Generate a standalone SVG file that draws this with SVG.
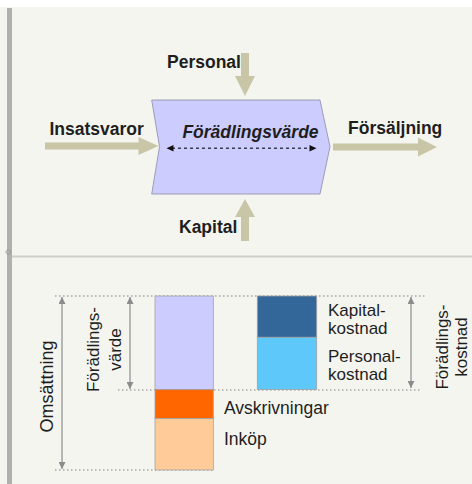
<svg xmlns="http://www.w3.org/2000/svg" width="472" height="484" viewBox="0 0 472 484">
  <defs>
    <style>
      .t { font-family: "Liberation Sans", Arial, sans-serif; fill: #1e1e1e; }
      .b { font-weight: bold; font-size: 17.5px; }
      .r { font-size: 17px; }
      .flow { fill: #c8c6a6; }
      .dot { stroke: #a8a8a8; stroke-width: 1.5; stroke-dasharray: 1.5 2.5; fill: none; }
      .dim { stroke: #8c8c8c; stroke-width: 1.2; fill: none; marker-start: url(#gh); marker-end: url(#gh); }
      .bar { stroke: #a0a0a0; stroke-width: 0.8; }
    </style>
    <marker id="gh" viewBox="0 0 10 10" refX="10" refY="5" markerUnits="userSpaceOnUse" markerWidth="8" markerHeight="7" orient="auto-start-reverse">
      <path d="M0,0 L10,5 L0,10 z" fill="#8c8c8c"/>
    </marker>
  </defs>

  <!-- background -->
  <rect x="0" y="0" width="472" height="484" fill="#f5f5f0"/>
  <rect x="0" y="0" width="472" height="7" fill="#ffffff"/>
  <rect x="7" y="8" width="5" height="476" fill="#b0b0b0"/>
  <line x1="12" y1="256.5" x2="472" y2="256.5" stroke="#d0d0c8" stroke-width="2"/>
  <path d="M8.3,249 L11,252 L8.3,255 L5.6,252 z" fill="none" stroke="#999" stroke-width="1"/>

  <!-- top: flow arrows -->
  <g id="connectors">
    <polygon class="flow" points="241,53 249,53 249,76 255,76 245,96 235,76 241,76"/>
    <polygon class="flow" points="245,199 255,217 249,217 249,241 241,241 241,217 235,217"/>
    <polygon class="flow" points="45,142.5 138.5,142.5 138.5,137 158.5,146 138.5,155 138.5,149.5 45,149.5"/>
    <polygon class="flow" points="333,143.5 418,143.5 418,137.5 437,147 418,156.5 418,150.5 333,150.5"/>
  </g>

  <g id="process">
    <polygon points="151.7,100 320,100 330,146.7 320,194 151.7,194 159.5,146.7" fill="#ccccff" stroke="#8a8aa8" stroke-width="0.8"/>
    <text class="t b" x="250.5" y="138" text-anchor="middle" font-style="italic">Förädlingsvärde</text>
    <line x1="172" y1="148.3" x2="311" y2="148.3" stroke="#3a3a55" stroke-width="1.5" stroke-dasharray="3 3"/>
    <polygon points="166.5,148.3 173.5,145 173.5,151.6" fill="#111"/>
    <polygon points="316.5,148.3 309.5,145 309.5,151.6" fill="#111"/>
  </g>

  <g id="personal"><text class="t b" x="167" y="68">Personal</text></g>
  <g id="insatsvaror"><text class="t b" x="49.5" y="135">Insatsvaror</text></g>
  <g id="forsaljning"><text class="t b" x="348" y="134">Försäljning</text></g>
  <g id="kapital"><text class="t b" x="179" y="233">Kapital</text></g>

  <!-- bottom: bars -->
  <g id="guides">
    <line class="dot" x1="55" y1="296" x2="427" y2="296"/>
    <line class="dot" x1="118" y1="390" x2="422" y2="390"/>
    <line class="dot" x1="55" y1="470" x2="213" y2="470"/>
    <line class="dim" x1="62" y1="297" x2="62" y2="469"/>
    <line class="dim" x1="130" y1="297" x2="130" y2="389"/>
    <line class="dim" x1="411" y1="297" x2="411" y2="388"/>
  </g>

  <g id="bar-omsattning">
    <rect class="bar" x="155" y="296" width="58.3" height="93.5" fill="#ccccff"/>
    <rect class="bar" x="155" y="389.5" width="58.3" height="29" fill="#ff6600"/>
    <rect class="bar" x="155" y="418.5" width="58.3" height="51.5" fill="#ffcc99"/>
  </g>
  <g id="bar-kostnad">
    <rect class="bar" x="257.3" y="296" width="59.4" height="41.3" fill="#336699"/>
    <rect class="bar" x="257.3" y="337.3" width="59.4" height="52.2" fill="#5fc8fa"/>
  </g>

  <g id="label-omsattning">
    <text class="t" font-size="18" transform="translate(53,386.5) rotate(-90)" text-anchor="middle">Omsättning</text>
  </g>
  <g id="label-foradlingsvarde">
    <text class="t r" transform="translate(99,349.5) rotate(-90)" text-anchor="middle"><tspan x="0" y="0">Förädlings-</tspan><tspan x="0" y="22">värde</tspan></text>
  </g>
  <g id="label-foradlingskostnad">
    <text class="t r" transform="translate(447.5,347) rotate(-90)" text-anchor="middle"><tspan x="0" y="0">Förädlings-</tspan><tspan x="0" y="19">kostnad</tspan></text>
  </g>
  <g id="label-kapitalkostnad">
    <text class="t r" x="328" y="316"><tspan x="328" y="316">Kapital-</tspan><tspan x="328" y="334">kostnad</tspan></text>
  </g>
  <g id="label-personalkostnad">
    <text class="t r" x="328" y="361.5"><tspan x="328" y="361.5">Personal-</tspan><tspan x="328" y="379.5">kostnad</tspan></text>
  </g>
  <g id="label-avskrivningar"><text class="t" font-size="17.5" x="224" y="414">Avskrivningar</text></g>
  <g id="label-inkop"><text class="t" font-size="17.5" x="224" y="445">Inköp</text></g>
</svg>
